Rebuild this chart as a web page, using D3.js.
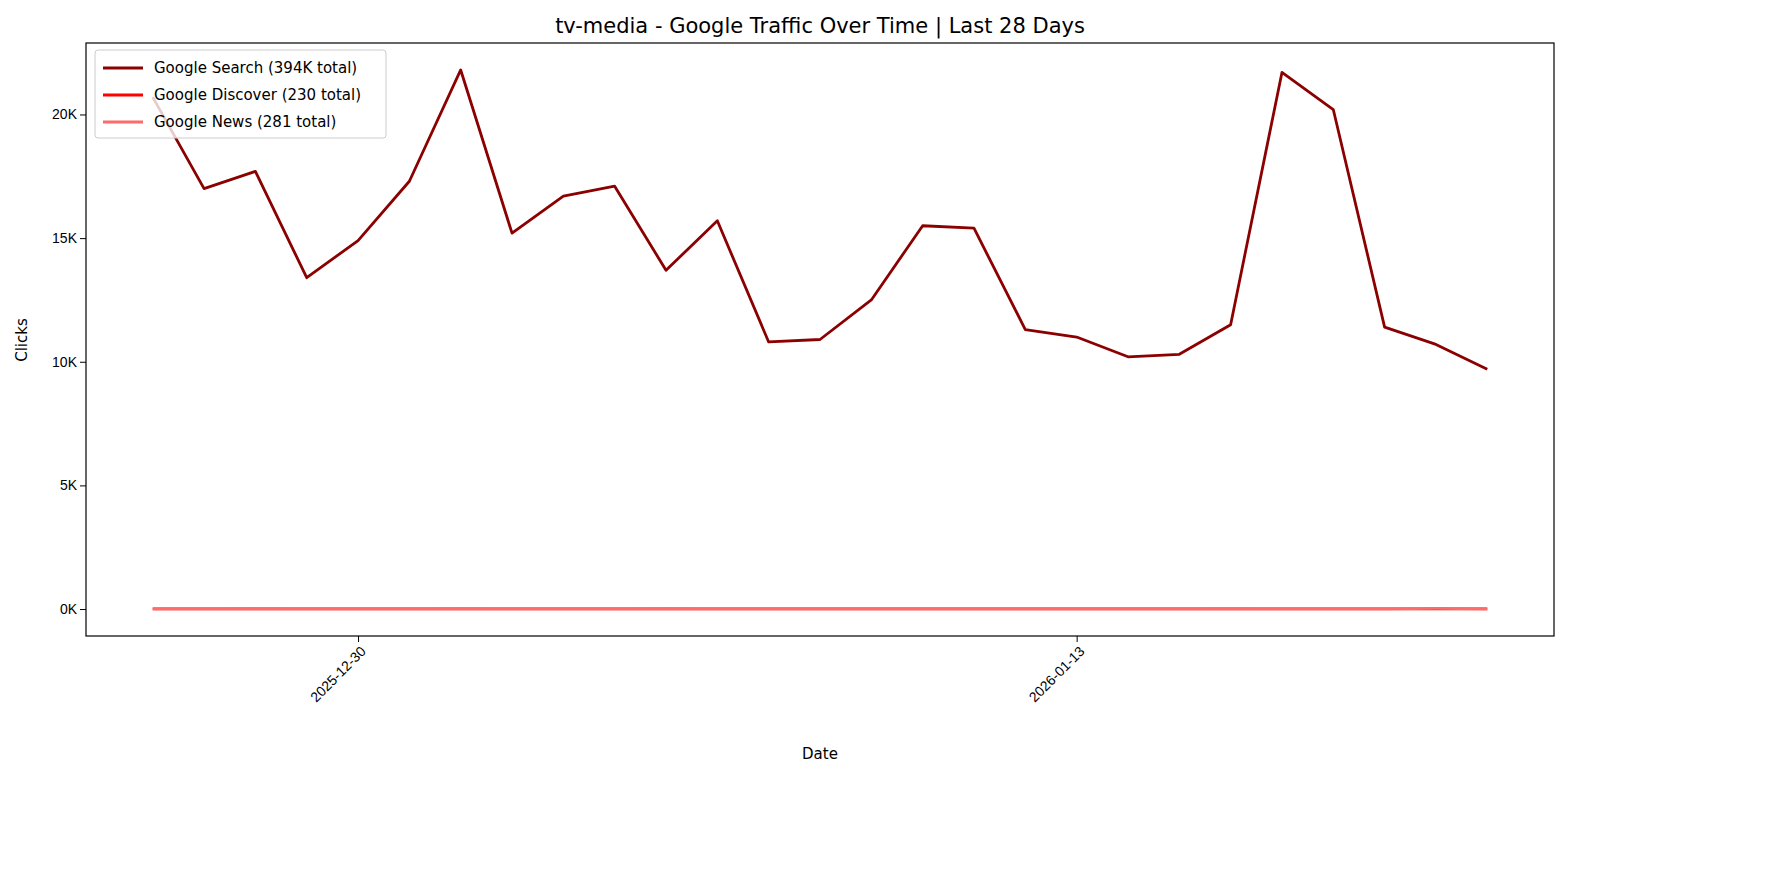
<!DOCTYPE html>
<html><head><meta charset="utf-8">
<script src="https://cdn.jsdelivr.net/npm/d3@7"></script>
<style>body{margin:0;background:#fff;font-family:"DejaVu Sans",sans-serif;}</style>
</head><body><svg id="c" width="1784" height="883"></svg>
<script>
const dates = ["2025-12-26","2025-12-27","2025-12-28","2025-12-29","2025-12-30","2025-12-31","2026-01-01","2026-01-02","2026-01-03","2026-01-04","2026-01-05","2026-01-06","2026-01-07","2026-01-08","2026-01-09","2026-01-10","2026-01-11","2026-01-12","2026-01-13","2026-01-14","2026-01-15","2026-01-16","2026-01-17","2026-01-18","2026-01-19","2026-01-20","2026-01-21"];
const searchClicks = [20700,17000,17700,13400,14900,17300,21800,15200,16700,17100,13700,15700,10800,10900,12500,15500,15400,11300,11000,10200,10300,11500,21700,20200,11400,10700,9700];
const discoverClicks = [8,8,9,8,8,8,9,8,8,8,9,8,8,8,8,8,8,8,8,8,8,9,8,8,8,9,9];
const newsClicks = [10,10,12,9,9,9,11,10,9,9,11,9,9,9,10,9,9,9,9,9,9,12,9,9,9,30,10];
const seriesNames = ["Google Search (394K total)","Google Discover (230 total)","Google News (281 total)"];
const seriesColors = ["#8b0000","#ff0000","#ff6b6b"];
const xTicks = ["2025-12-30","2026-01-13"];
const yTicks = [0,5000,10000,15000,20000];

const svg = d3.select("#c");
const L=86,R=1554,T=43,B=636;
const pd = d3.utcParse("%Y-%m-%d");
const D = dates.map(pd);
const day=864e5;
const x = d3.scaleUtc().domain([+D[0]-1.3*day, +D[D.length-1]+1.3*day]).range([L,R]);
const y = d3.scaleLinear().domain([-1090,22890]).range([B,T]);

const xa = svg.append("g").attr("transform",`translate(0,${B})`)
  .call(d3.axisBottom(x).tickValues(xTicks.map(pd)).tickFormat(d3.utcFormat("%Y-%m-%d")).tickSize(6));
xa.selectAll("text").attr("font-size",14).attr("fill","#000").attr("text-anchor","end")
  .attr("transform","rotate(-45)").attr("dx","-0.4em").attr("dy","0.6em");
const ya = svg.append("g").attr("transform",`translate(${L},0)`)
  .call(d3.axisLeft(y).tickValues(yTicks).tickFormat(d=>(d/1000)+"K").tickSize(6));
ya.selectAll("text").attr("font-size",14).attr("fill","#000");
svg.selectAll(".domain").remove();
svg.append("rect").attr("x",L).attr("y",T).attr("width",R-L).attr("height",B-T).attr("fill","none").attr("stroke","#000").attr("stroke-width",1.2);

const all=[searchClicks,discoverClicks,newsClicks];
const line=d3.line().x((d,i)=>x(D[i])).y(d=>y(d));
all.forEach((s,k)=>svg.append("path").datum(s).attr("d",line).attr("fill","none")
  .attr("stroke",seriesColors[k]).attr("stroke-width",2.8).attr("stroke-linejoin","round"));

svg.append("text").attr("x",(L+R)/2).attr("y",33).attr("text-anchor","middle").attr("font-size",21).text("tv-media - Google Traffic Over Time | Last 28 Days");
svg.append("text").attr("x",(L+R)/2).attr("y",759).attr("text-anchor","middle").attr("font-size",15).text("Date");
svg.append("text").attr("transform","translate(27,340) rotate(-90)").attr("text-anchor","middle").attr("font-size",15).text("Clicks");

const lg=svg.append("g").attr("transform","translate(95,50)");
lg.append("rect").attr("width",291).attr("height",88).attr("rx",3).attr("fill","#fff").attr("fill-opacity",0.8).attr("stroke","#ccc");
seriesNames.forEach((n,k)=>{
  const yy=18+k*27;
  lg.append("line").attr("x1",8).attr("x2",48).attr("y1",yy).attr("y2",yy).attr("stroke",seriesColors[k]).attr("stroke-width",2.8);
  lg.append("text").attr("x",59).attr("y",yy+5).attr("font-size",15).text(n);
});
</script></body></html>
